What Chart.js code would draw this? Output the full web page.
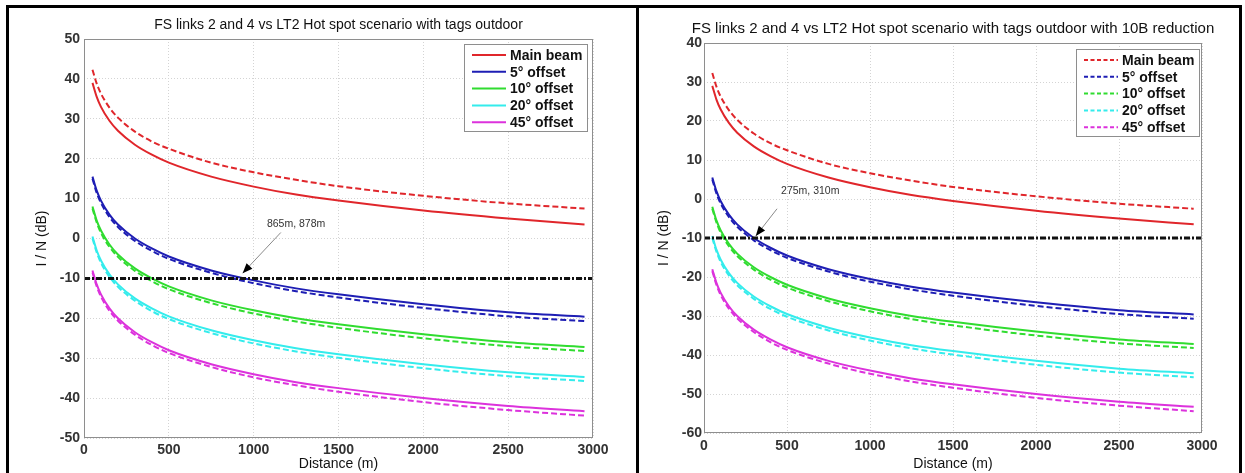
<!DOCTYPE html>
<html>
<head>
<meta charset="utf-8">
<script src="https://cdn.jsdelivr.net/npm/chart.js@4.4.1/dist/chart.umd.min.js"></script>
<style>
  body { margin: 0; background: #fff; width: 1245px; height: 473px; overflow: hidden; position: relative; }
  canvas { position: absolute; }
  .rule { position: absolute; background: #000; z-index: 5; }
</style>
</head>
<body>
<canvas id="left" width="620" height="465" style="left:10px;top:8px"></canvas>
<canvas id="right" width="600" height="465" style="left:640px;top:8px"></canvas>
<div class="rule" style="left:6px;top:5px;width:1236px;height:3px"></div>
<div class="rule" style="left:6px;top:5px;width:3px;height:468px"></div>
<div class="rule" style="left:636px;top:5px;width:3px;height:468px"></div>
<div class="rule" style="left:1239px;top:5px;width:3px;height:468px"></div>
<script>
const distance = [50, 75, 100, 150, 200, 300, 400, 500, 750, 1000, 1250, 1500, 2000, 2500, 2950];
const seriesNames = ['Main beam', '5\u00b0 offset', '10\u00b0 offset', '20\u00b0 offset', '45\u00b0 offset'];
const seriesColors = ['#e0262b', '#1e1eb4', '#30dc30', '#34ecec', '#dc32dc'];

// left panel: tags outdoor (dB)
const leftMainSolid   = [39, 35.5, 33, 29.5, 27, 23.5, 21, 19, 15.5, 13, 11, 9.5, 7, 5, 3.5];
const leftMainDashed  = [42.3, 38.8, 36.3, 32.8, 30.3, 26.8, 24.3, 22.5, 19, 16.6, 14.7, 13.1, 10.7, 8.8, 7.5];
const left5Solid      = [15.5, 12, 9.5, 6, 3.5, 0, -2.5, -4.5, -8, -10.5, -12.5, -14, -16.5, -18.5, -19.6];
const left5Dashed     = [15, 11.4, 8.9, 5.4, 2.9, -0.6, -3.1, -5.1, -8.6, -11.2, -13.2, -14.8, -17.4, -19.5, -20.7];
const left10Solid     = [8, 4.5, 2, -1.5, -4, -7.5, -10, -12, -15.5, -18, -20, -21.5, -24, -26, -27.2];
const left10Dashed    = [7.5, 4, 1.4, -2.1, -4.6, -8.1, -10.7, -12.7, -16.2, -18.8, -20.8, -22.4, -25, -27, -28.2];
const left20Solid     = [0.5, -3, -5.5, -9, -11.5, -15, -17.5, -19.5, -23, -25.5, -27.5, -29, -31.5, -33.5, -34.7];
const left20Dashed    = [0, -3.5, -6.1, -9.6, -12.1, -15.6, -18.2, -20.2, -23.7, -26.3, -28.3, -29.9, -32.5, -34.5, -35.7];
const left45Solid     = [-8, -11.5, -14, -17.5, -20, -23.5, -26, -28, -31.5, -34, -36, -37.5, -40, -42, -43.3];
const left45Dashed    = [-8.5, -12, -14.6, -18.1, -20.6, -24.1, -26.7, -28.7, -32.2, -34.8, -36.8, -38.4, -41, -43, -44.4];

// right panel: with 10 dB reduction
const rightMainSolid  = [29, 25.5, 23, 19.5, 17, 13.5, 11, 9, 5.5, 3, 1, -0.5, -3, -5, -6.5];
const rightMainDashed = [32.3, 28.8, 26.3, 22.8, 20.3, 16.8, 14.3, 12.5, 9, 6.6, 4.7, 3.1, 0.7, -1.2, -2.5];
const right5Solid     = [5.5, 2, -0.5, -4, -6.5, -10, -12.5, -14.5, -18, -20.5, -22.5, -24, -26.5, -28.5, -29.6];
const right5Dashed    = [5, 1.4, -1.1, -4.6, -7.1, -10.6, -13.1, -15.1, -18.6, -21.2, -23.2, -24.8, -27.4, -29.5, -30.7];
const right10Solid    = [-2, -5.5, -8, -11.5, -14, -17.5, -20, -22, -25.5, -28, -30, -31.5, -34, -36, -37.2];
const right10Dashed   = [-2.5, -6, -8.6, -12.1, -14.6, -18.1, -20.7, -22.7, -26.2, -28.8, -30.8, -32.4, -35, -37, -38.2];
const right20Solid    = [-9.5, -13, -15.5, -19, -21.5, -25, -27.5, -29.5, -33, -35.5, -37.5, -39, -41.5, -43.5, -44.7];
const right20Dashed   = [-10, -13.5, -16.1, -19.6, -22.1, -25.6, -28.2, -30.2, -33.7, -36.3, -38.3, -39.9, -42.5, -44.5, -45.7];
const right45Solid    = [-18, -21.5, -24, -27.5, -30, -33.5, -36, -38, -41.5, -44, -46, -47.5, -50, -52, -53.3];
const right45Dashed   = [-18.5, -22, -24.6, -28.1, -30.6, -34.1, -36.7, -38.7, -42.2, -44.8, -46.8, -48.4, -51, -53, -54.4];

const thresholdDb = -10;
const thresholdRange = [0, 3000];
const xTicks = [0, 500, 1000, 1500, 2000, 2500, 3000];

const FONT = '"Liberation Sans", Arial, Helvetica, sans-serif';

// frame, title, legend and arrow note drawn in the chart area
const panelPlugin = {
  id: 'panel',
  afterDraw(chart) {
    const o = chart.options.plugins.panel;
    const { ctx, chartArea: a, scales: { x, y } } = chart;
    ctx.save();

    ctx.strokeStyle = '#8e8e8e';
    ctx.lineWidth = 1;
    ctx.strokeRect(a.left + 0.5, a.top + 0.5, a.width - 1, a.height - 1);

    ctx.fillStyle = '#111';
    ctx.font = o.titleSize + 'px ' + FONT;
    ctx.textAlign = 'center';
    ctx.textBaseline = 'middle';
    ctx.fillText(o.title, (a.left + a.right) / 2 + o.titleShift, a.top - o.titleGap);

    // note + arrow
    const [ax0, ay0] = o.arrowFrom, [ax1, ay1] = o.arrowTo;
    const x0 = x.getPixelForValue(ax0), y0 = y.getPixelForValue(ay0);
    const x1 = x.getPixelForValue(ax1), y1 = y.getPixelForValue(ay1);
    ctx.strokeStyle = '#8a8a8a';
    ctx.beginPath(); ctx.moveTo(x0, y0); ctx.lineTo(x1, y1); ctx.stroke();
    const ang = Math.atan2(y1 - y0, x1 - x0), L = 10, W = 4;
    ctx.fillStyle = '#000';
    ctx.beginPath();
    ctx.moveTo(x1, y1);
    ctx.lineTo(x1 - L * Math.cos(ang) + W * Math.sin(ang), y1 - L * Math.sin(ang) - W * Math.cos(ang));
    ctx.lineTo(x1 - L * Math.cos(ang) - W * Math.sin(ang), y1 - L * Math.sin(ang) + W * Math.cos(ang));
    ctx.closePath(); ctx.fill();
    ctx.fillStyle = '#333';
    ctx.font = '10.5px ' + FONT;
    ctx.fillText(o.note, x.getPixelForValue(o.noteAt[0]), y.getPixelForValue(o.noteAt[1]));

    // legend box
    const items = chart.data.datasets.filter(d => d.inLegend);
    const bw = 124, bh = 88;
    const bx = a.right - o.legendInset[0] - bw, by = a.top + o.legendInset[1];
    ctx.fillStyle = '#fff';
    ctx.fillRect(bx, by, bw, bh);
    ctx.strokeStyle = '#8e8e8e';
    ctx.strokeRect(bx + 0.5, by + 0.5, bw - 1, bh - 1);
    ctx.font = 'bold 14px ' + FONT;
    ctx.textAlign = 'left';
    items.forEach((d, i) => {
      const ry = by + 11 + i * 16.8;
      ctx.strokeStyle = d.borderColor;
      ctx.lineWidth = 2;
      ctx.setLineDash(d.borderDash && d.borderDash.length ? [4, 2.5] : []);
      ctx.beginPath(); ctx.moveTo(bx + 8, ry); ctx.lineTo(bx + 42, ry); ctx.stroke();
      ctx.setLineDash([]);
      ctx.fillStyle = '#111';
      ctx.fillText(d.label, bx + 46, ry + 1);
    });
    ctx.restore();
  }
};

function buildPanel(id, p) {
  const datasets = [];
  datasets.push({
    label: 'threshold',
    data: thresholdRange.map(d => ({ x: d, y: thresholdDb })),
    borderColor: '#111', borderWidth: 3, borderDash: [6, 2, 2, 2], pointRadius: 0
  });
  p.solid.forEach((vals, i) => datasets.push({
    label: seriesNames[i],
    data: distance.map((d, k) => ({ x: d, y: vals[k] })),
    borderColor: seriesColors[i], borderWidth: 2, pointRadius: 0,
    cubicInterpolationMode: 'monotone', inLegend: !p.legendDashed
  }));
  p.dashed.forEach((vals, i) => datasets.push({
    label: seriesNames[i],
    data: distance.map((d, k) => ({ x: d, y: vals[k] })),
    borderColor: seriesColors[i], borderWidth: 2, borderDash: [6, 3], pointRadius: 0,
    cubicInterpolationMode: 'monotone', inLegend: p.legendDashed
  }));

  const tickFont = { family: FONT, size: 14, weight: 'bold' };
  new Chart(document.getElementById(id), {
    type: 'line',
    data: { datasets },
    plugins: [panelPlugin],
    options: {
      responsive: false,
      animation: false,
      layout: { padding: p.padding },
      plugins: {
        legend: { display: false },
        tooltip: { enabled: false },
        panel: p.panel
      },
      scales: {
        x: {
          type: 'linear', min: 0, max: 3000,
          afterBuildTicks: s => { s.ticks = xTicks.map(v => ({ value: v })); },
          afterFit: s => { s.height = p.xHeight; },
          ticks: { font: tickFont, color: '#333', padding: p.xTickPad, maxRotation: 0, callback: v => String(v) },
          grid: { color: '#d4d4d4', drawTicks: false },
          border: { display: false, dash: [1, 2] },
          title: { display: true, text: 'Distance (m)', color: '#111', font: { family: FONT, size: 14 }, padding: { top: 0, bottom: 0 } }
        },
        y: {
          min: p.yMin, max: p.yMax,
          afterFit: s => { s.width = p.yWidth; },
          ticks: { stepSize: 10, font: tickFont, color: '#333', padding: p.yTickPad, callback: v => String(v) },
          grid: { color: '#d4d4d4', drawTicks: false },
          border: { display: false, dash: [1, 2] },
          title: { display: true, text: 'I / N (dB)', color: '#111', font: { family: FONT, size: 14 }, padding: { top: p.yTitlePad, bottom: 0 } }
        }
      }
    }
  });
}

buildPanel('left', {
  solid: [leftMainSolid, left5Solid, left10Solid, left20Solid, left45Solid],
  dashed: [leftMainDashed, left5Dashed, left10Dashed, left20Dashed, left45Dashed],
  legendDashed: false,
  yMin: -50, yMax: 50,
  padding: { top: 31, right: 37, left: 0, bottom: 0 },
  xHeight: 35, yWidth: 74, xTickPad: 4, yTickPad: 4, yTitlePad: 24,
  panel: {
    title: 'FS links 2 and 4 vs LT2 Hot spot scenario with tags outdoor', titleGap: 14, titleSize: 14, titleShift: 0,
    note: '865m, 878m', noteAt: [1250, 3.5], arrowFrom: [1160, 1.5], arrowTo: [935, -8.7],
    legendInset: [5, 5]
  }
});

buildPanel('right', {
  solid: [rightMainSolid, right5Solid, right10Solid, right20Solid, right45Solid],
  dashed: [rightMainDashed, right5Dashed, right10Dashed, right20Dashed, right45Dashed],
  legendDashed: true,
  yMin: -60, yMax: 40,
  padding: { top: 35, right: 38, left: 0, bottom: 0 },
  xHeight: 40, yWidth: 64, xTickPad: 5, yTickPad: 2, yTitlePad: 16,
  panel: {
    title: 'FS links 2 and 4 vs LT2 Hot spot scenario with tags outdoor with 10B reduction', titleGap: 14, titleSize: 15, titleShift: 0,
    note: '275m, 310m', noteAt: [640, 2], arrowFrom: [440, -2.5], arrowTo: [312, -9.5],
    legendInset: [2, 6]
  }
});
</script>
</body>
</html>
